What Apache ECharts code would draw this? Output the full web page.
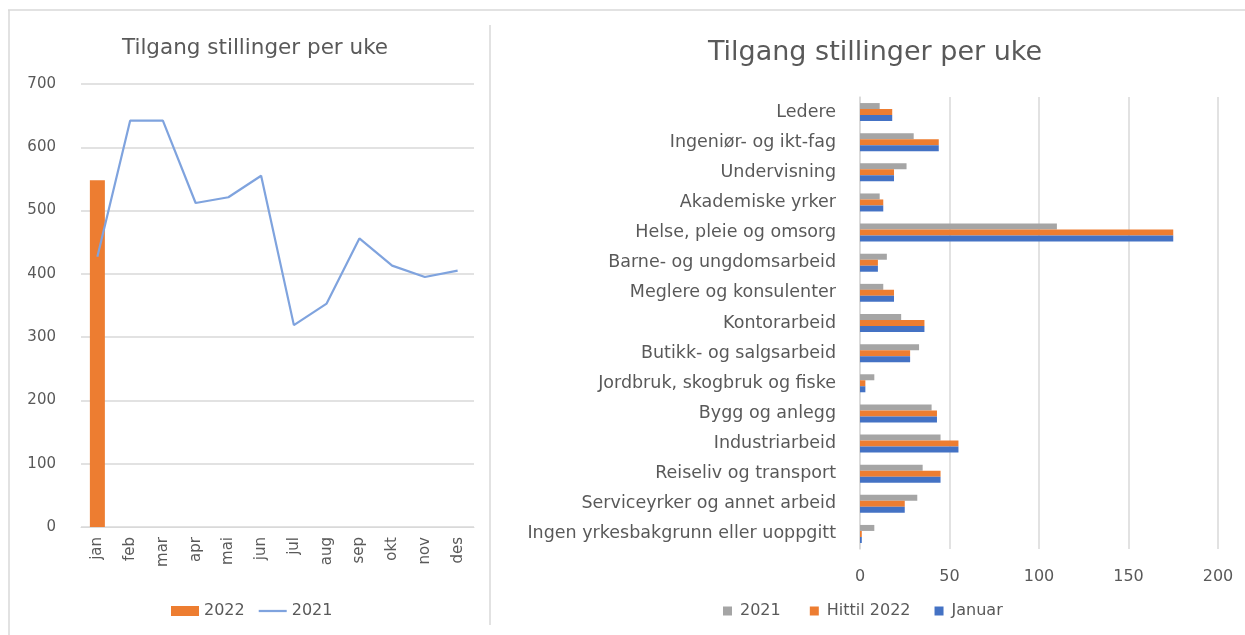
<!DOCTYPE html>
<html>
<head>
<meta charset="utf-8">
<script src="https://cdn.jsdelivr.net/npm/echarts@6/dist/echarts.min.js"></script>
<style>
  html, body { margin: 0; padding: 0; background: #fff; }
  #chart { width: 1245px; height: 635px; }
</style>
</head>
<body>
<div id="chart"></div>
<script>
// left chart: monthly postings
const months = ['jan', 'feb', 'mar', 'apr', 'mai', 'jun', 'jul', 'aug', 'sep', 'okt', 'nov', 'des'];
const values2022 = [548, null, null, null, null, null, null, null, null, null, null, null];
const values2021 = [427, 642, 642, 512, 521, 555, 319, 353, 456, 413, 395, 405];
const leftTicks = [0, 100, 200, 300, 400, 500, 600, 700];

// right chart: by occupation
const occupations = [
  'Ledere', 'Ingeniør- og ikt-fag', 'Undervisning', 'Akademiske yrker',
  'Helse, pleie og omsorg', 'Barne- og ungdomsarbeid', 'Meglere og konsulenter',
  'Kontorarbeid', 'Butikk- og salgsarbeid', 'Jordbruk, skogbruk og fiske',
  'Bygg og anlegg', 'Industriarbeid', 'Reiseliv og transport',
  'Serviceyrker og annet arbeid', 'Ingen yrkesbakgrunn eller uoppgitt'
];
const occ2021 = [11, 30, 26, 11, 110, 15, 13, 23, 33, 8, 40, 45, 35, 32, 8];
const occHittil2022 = [18, 44, 19, 13, 175, 10, 19, 36, 28, 3, 43, 55, 45, 25, 1];
const occJanuar = [18, 44, 19, 13, 175, 10, 19, 36, 28, 3, 43, 55, 45, 25, 1];
const rightTicks = [0, 50, 100, 150, 200];

const FONT = 'DejaVu Sans';
const TXT = '#595959';
const GRIDC = '#D9D9D9';

const chart = echarts.init(document.getElementById('chart'), null, { renderer: 'canvas' });

chart.setOption({
  backgroundColor: '#fff',
  animation: false,
  textStyle: { fontFamily: FONT, color: TXT },
  title: [
    { text: 'Tilgang stillinger per uke', left: 250, top: 32, textAlign: 'center',
      textStyle: { fontFamily: FONT, fontSize: 21.5, fontWeight: 'normal', color: TXT } },
    { text: 'Tilgang stillinger per uke', left: 870, top: 34, textAlign: 'center',
      textStyle: { fontFamily: FONT, fontSize: 27, fontWeight: 'normal', color: TXT } }
  ],
  legend: [
    { left: 166, top: 598, itemGap: 14, itemWidth: 28, itemHeight: 10,
      textStyle: { fontFamily: FONT, fontSize: 16, color: TXT },
      data: [{ name: '2022', icon: 'rect' },
             { name: '2021', icon: 'path://M0,0 L30,0 L30,2.4 L0,2.4 Z' }] },
    { left: 718, top: 598, itemGap: 24, itemWidth: 9, itemHeight: 9,
      textStyle: { fontFamily: FONT, fontSize: 16, color: TXT, padding: [0, 0, 0, 3] },
      data: [{ name: '2021 ', icon: 'rect' }, { name: 'Hittil 2022', icon: 'rect' }, { name: 'Januar', icon: 'rect' }] }
  ],
  grid: [
    { left: 81, right: 771, top: 84, bottom: 108 },
    { left: 860, right: 27, top: 97, bottom: 86 }
  ],
  xAxis: [
    { type: 'category', gridIndex: 0, data: months,
      axisLine: { lineStyle: { color: GRIDC } }, axisTick: { show: false },
      axisLabel: { rotate: 90, margin: 10, fontFamily: FONT, fontSize: 15, color: TXT } },
    { type: 'value', gridIndex: 1, min: rightTicks[0], max: rightTicks[rightTicks.length - 1], interval: 50,
      axisLine: { show: false }, axisTick: { show: false },
      splitLine: { lineStyle: { color: GRIDC, width: 1.5 } },
      axisLabel: { margin: 20, fontFamily: FONT, fontSize: 16, color: TXT } }
  ],
  yAxis: [
    { type: 'value', gridIndex: 0, min: leftTicks[0], max: leftTicks[leftTicks.length - 1], interval: 100,
      axisLine: { show: false }, axisTick: { show: false },
      splitLine: { lineStyle: { color: GRIDC, width: 1.5 } },
      axisLabel: { margin: 25, fontFamily: FONT, fontSize: 15, color: TXT } },
    { type: 'category', gridIndex: 1, data: occupations, inverse: true,
      axisLine: { lineStyle: { color: GRIDC, width: 1.5 } }, axisTick: { show: false },
      axisLabel: { margin: 24, fontFamily: FONT, fontSize: 17.5, color: TXT } }
  ],
  series: [
    { name: '2022', type: 'bar', xAxisIndex: 0, yAxisIndex: 0, data: values2022,
      barWidth: 15, itemStyle: { color: '#ED7D31' } },
    { name: '2021', type: 'line', xAxisIndex: 0, yAxisIndex: 0, data: values2021,
      symbol: 'none', lineStyle: { color: '#7FA3DE', width: 2.2 }, itemStyle: { color: '#7FA3DE' } },
    { name: '2021 ', type: 'bar', xAxisIndex: 1, yAxisIndex: 1, data: occ2021,
      barWidth: 6, barGap: '0%', itemStyle: { color: '#A5A5A5' } },
    { name: 'Hittil 2022', type: 'bar', xAxisIndex: 1, yAxisIndex: 1, data: occHittil2022,
      barWidth: 6, barGap: '0%', itemStyle: { color: '#ED7D31' } },
    { name: 'Januar', type: 'bar', xAxisIndex: 1, yAxisIndex: 1, data: occJanuar,
      barWidth: 6, barGap: '0%', itemStyle: { color: '#4472C4' } }
  ],
  graphic: [
    { type: 'line', shape: { x1: 8, y1: 10, x2: 1245, y2: 10 }, style: { stroke: GRIDC, lineWidth: 1.5 } },
    { type: 'line', shape: { x1: 9, y1: 10, x2: 9, y2: 635 }, style: { stroke: GRIDC, lineWidth: 1.5 } },
    { type: 'line', shape: { x1: 490, y1: 25, x2: 490, y2: 625 }, style: { stroke: GRIDC, lineWidth: 1.5 } }
  ]
});
</script>
</body>
</html>
